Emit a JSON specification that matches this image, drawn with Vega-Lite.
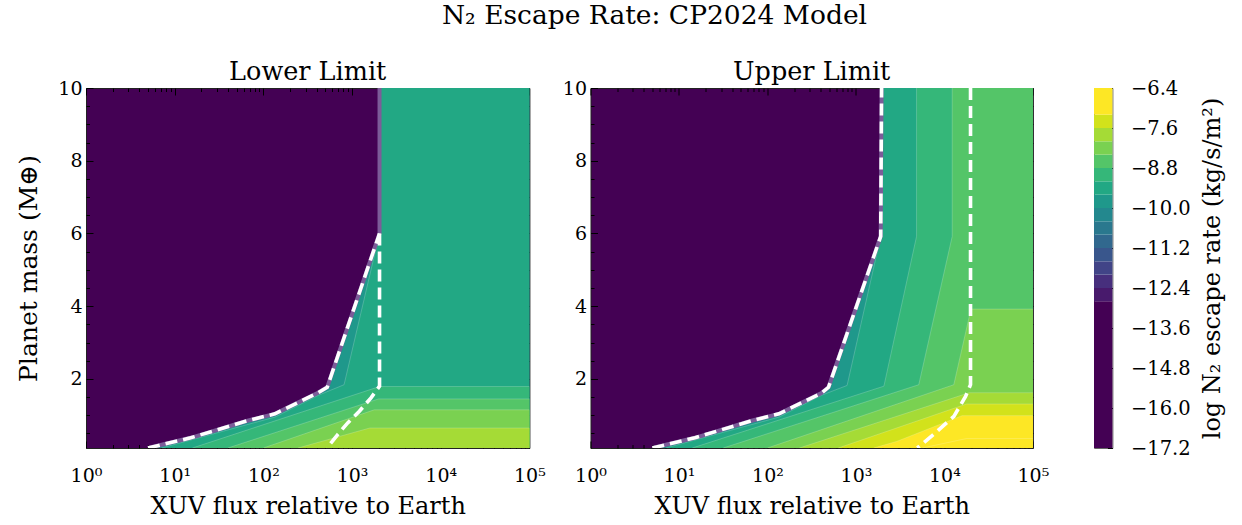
{
  "$schema": "https://vega.github.io/schema/vega-lite/v6.json",
  "background": "white",
  "padding": {"left": 16, "top": 3, "right": 4, "bottom": 4},
  "config": {
    "font": "DejaVu Serif",
    "axis": {"grid": false, "domain": false, "labelColor": "#000", "titleColor": "#000", "tickColor": "#000", "titleFontWeight": "normal", "labelFlush": false, "labelOverlap": false, "labelBound": false, "labelFont": "DejaVu Serif", "titleFont": "DejaVu Serif"},
    "title": {"font": "DejaVu Serif", "fontWeight": "normal", "color": "#000"}
  },
  "title": {"text": "N₂ Escape Rate: CP2024 Model", "fontSize": 26.5, "anchor": "middle", "dx": 34, "offset": 29.5},
  "datasets": {
    "cl": [
      {"b": 8, "i": 0, "x": 5.01, "y": 0.1}, {"b": 8, "i": 1, "x": 15.14, "y": 0.38}, {"b": 8, "i": 2, "x": 66.07, "y": 0.85}, {"b": 8, "i": 3, "x": 134.9, "y": 1.04}, {"b": 8, "i": 4, "x": 407.4, "y": 1.61}, {"b": 8, "i": 5, "x": 524.8, "y": 1.77}, {"b": 8, "i": 6, "x": 2041.7, "y": 6.0}, {"b": 8, "i": 7, "x": 2041.7, "y": 10}, {"b": 8, "i": 8, "x": 100000, "y": 10},
      {"b": 9, "i": 0, "x": 7.08, "y": 0.1}, {"b": 9, "i": 1, "x": 134.9, "y": 0.95}, {"b": 9, "i": 2, "x": 416.9, "y": 1.55}, {"b": 9, "i": 3, "x": 812.8, "y": 1.84}, {"b": 9, "i": 4, "x": 2041.7, "y": 6.0}, {"b": 9, "i": 5, "x": 2041.7, "y": 10}, {"b": 9, "i": 6, "x": 100000, "y": 10},
      {"b": 10, "i": 0, "x": 15.85, "y": 0.1}, {"b": 10, "i": 1, "x": 2041.7, "y": 1.79}, {"b": 10, "i": 2, "x": 100000, "y": 1.79},
      {"b": 11, "i": 0, "x": 39.81, "y": 0.1}, {"b": 11, "i": 1, "x": 1995.3, "y": 1.45}, {"b": 11, "i": 2, "x": 100000, "y": 1.45},
      {"b": 12, "i": 0, "x": 100, "y": 0.1}, {"b": 12, "i": 1, "x": 1778.3, "y": 1.15}, {"b": 12, "i": 2, "x": 100000, "y": 1.15},
      {"b": 13, "i": 0, "x": 245.5, "y": 0.1}, {"b": 13, "i": 1, "x": 1584.9, "y": 0.65}, {"b": 13, "i": 2, "x": 100000, "y": 0.65}
    ],
    "cr": [
      {"b": 8, "i": 0, "x": 5.01, "y": 0.1}, {"b": 8, "i": 1, "x": 15.14, "y": 0.38}, {"b": 8, "i": 2, "x": 66.07, "y": 0.85}, {"b": 8, "i": 3, "x": 134.9, "y": 1.04}, {"b": 8, "i": 4, "x": 407.4, "y": 1.61}, {"b": 8, "i": 5, "x": 489.8, "y": 1.77}, {"b": 8, "i": 6, "x": 1905.5, "y": 5.92}, {"b": 8, "i": 7, "x": 1949.8, "y": 10}, {"b": 8, "i": 8, "x": 100000, "y": 10},
      {"b": 9, "i": 0, "x": 7.08, "y": 0.1}, {"b": 9, "i": 1, "x": 134.9, "y": 0.95}, {"b": 9, "i": 2, "x": 407.4, "y": 1.55}, {"b": 9, "i": 3, "x": 794.3, "y": 1.82}, {"b": 9, "i": 4, "x": 1905.5, "y": 5.92}, {"b": 9, "i": 5, "x": 1949.8, "y": 10}, {"b": 9, "i": 6, "x": 100000, "y": 10},
      {"b": 10, "i": 0, "x": 14.13, "y": 0.1}, {"b": 10, "i": 1, "x": 2070.1, "y": 1.8}, {"b": 10, "i": 2, "x": 4841.7, "y": 5.92}, {"b": 10, "i": 3, "x": 4841.7, "y": 10}, {"b": 10, "i": 4, "x": 100000, "y": 10},
      {"b": 11, "i": 0, "x": 31.62, "y": 0.1}, {"b": 11, "i": 1, "x": 5128.6, "y": 1.84}, {"b": 11, "i": 2, "x": 12246, "y": 5.92}, {"b": 11, "i": 3, "x": 12246, "y": 10}, {"b": 11, "i": 4, "x": 100000, "y": 10},
      {"b": 12, "i": 0, "x": 100, "y": 0.1}, {"b": 12, "i": 1, "x": 12764, "y": 1.84}, {"b": 12, "i": 2, "x": 19953, "y": 3.92}, {"b": 12, "i": 3, "x": 100000, "y": 3.92},
      {"b": 13, "i": 0, "x": 229.1, "y": 0.1}, {"b": 13, "i": 1, "x": 19055, "y": 1.62}, {"b": 13, "i": 2, "x": 100000, "y": 1.62},
      {"b": 14, "i": 0, "x": 631.0, "y": 0.1}, {"b": 14, "i": 1, "x": 17783, "y": 1.31}, {"b": 14, "i": 2, "x": 100000, "y": 1.31},
      {"b": 15, "i": 0, "x": 1584.9, "y": 0.1}, {"b": 15, "i": 1, "x": 2884, "y": 0.28}, {"b": 15, "i": 2, "x": 15849, "y": 0.99}, {"b": 15, "i": 3, "x": 100000, "y": 0.99},
      {"b": 16, "i": 0, "x": 5623, "y": 0.1}, {"b": 16, "i": 1, "x": 17783, "y": 0.36}, {"b": 16, "i": 2, "x": 100000, "y": 0.36}
    ],
    "dl": [
      {"s": "A", "i": 0, "x": 5.01, "y": 0.1}, {"s": "A", "i": 1, "x": 15.14, "y": 0.38}, {"s": "A", "i": 2, "x": 66.07, "y": 0.85}, {"s": "A", "i": 3, "x": 134.9, "y": 1.04}, {"s": "A", "i": 4, "x": 407.4, "y": 1.61}, {"s": "A", "i": 5, "x": 524.8, "y": 1.77}, {"s": "A", "i": 6, "x": 2041.7, "y": 6.0},
      {"s": "B", "i": 0, "x": 2041.7, "y": 6.0}, {"s": "B", "i": 1, "x": 2041.7, "y": 1.8}, {"s": "B", "i": 2, "x": 1636.8, "y": 1.48}, {"s": "B", "i": 3, "x": 1210.6, "y": 1.11}, {"s": "B", "i": 4, "x": 893.3, "y": 0.79}, {"s": "B", "i": 5, "x": 688.7, "y": 0.47}, {"s": "B", "i": 6, "x": 520, "y": 0.1}
    ],
    "dr": [
      {"s": "A", "i": 0, "x": 5.01, "y": 0.1}, {"s": "A", "i": 1, "x": 15.14, "y": 0.38}, {"s": "A", "i": 2, "x": 66.07, "y": 0.85}, {"s": "A", "i": 3, "x": 134.9, "y": 1.04}, {"s": "A", "i": 4, "x": 407.4, "y": 1.61}, {"s": "A", "i": 5, "x": 489.8, "y": 1.77}, {"s": "A", "i": 6, "x": 1905.5, "y": 5.92}, {"s": "A", "i": 7, "x": 1949.8, "y": 10},
      {"s": "B", "i": 0, "x": 19724, "y": 10}, {"s": "B", "i": 1, "x": 19724, "y": 1.84}, {"s": "B", "i": 2, "x": 17338, "y": 1.52}, {"s": "B", "i": 3, "x": 12794, "y": 0.97}, {"s": "B", "i": 4, "x": 7943, "y": 0.52}, {"s": "B", "i": 5, "x": 4932, "y": 0.1}
    ],
    "cb": [
      {"b": 0, "lo": -17.2, "hi": -12.8}, {"b": 1, "lo": -12.8, "hi": -12.4}, {"b": 2, "lo": -12.4, "hi": -12.0}, {"b": 3, "lo": -12.0, "hi": -11.6},
      {"b": 4, "lo": -11.6, "hi": -11.2}, {"b": 5, "lo": -11.2, "hi": -10.8}, {"b": 6, "lo": -10.8, "hi": -10.4}, {"b": 7, "lo": -10.4, "hi": -10.0},
      {"b": 8, "lo": -10.0, "hi": -9.6}, {"b": 9, "lo": -9.6, "hi": -9.2}, {"b": 10, "lo": -9.2, "hi": -8.8}, {"b": 11, "lo": -8.8, "hi": -8.4},
      {"b": 12, "lo": -8.4, "hi": -8.0}, {"b": 13, "lo": -8.0, "hi": -7.6}, {"b": 14, "lo": -7.6, "hi": -7.2}, {"b": 15, "lo": -7.2, "hi": -6.4}
    ]
  },
  "hconcat": [
    {
      "width": 443.4, "height": 360,
      "view": {"fill": "#440154", "stroke": "#222", "strokeWidth": 1},
      "title": {"text": "Lower Limit", "fontSize": 25.5, "offset": -6},
      "resolve": {"axis": {"x": "independent", "y": "independent"}},
      "layer": [
        {
          "data": {"name": "cl"},
          "mark": {"type": "area", "fillOpacity": 1, "opacity": 1},
          "encoding": {
            "x": {"field": "x", "type": "quantitative", "scale": {"type": "log", "domain": [1, 100000], "nice": false},
              "axis": {"orient": "bottom", "values": [1, 10, 100, 1000, 10000, 100000], "tickSize": -7, "tickWidth": 1, "labelExpr": "'10' + ['⁰','¹','²','³','⁴','⁵'][round(log(datum.value)/LN10)]", "labelFontSize": 19, "labelPadding": 25, "title": "XUV flux relative to Earth", "titleFontSize": 24, "titlePadding": 9}},
            "y": {"field": "y", "type": "quantitative", "stack": null, "scale": {"domain": [0.1, 10], "nice": false, "zero": false},
              "axis": {"orient": "left", "values": [2, 4, 6, 8, 10], "tickSize": -7, "tickWidth": 1, "format": "d", "labelFontSize": 19, "labelPadding": 11, "title": "Planet mass (M⊕)", "titleFontSize": 25, "titlePadding": 16}},
            "y2": {"datum": 0.1},
            "color": {"field": "b", "type": "ordinal", "scale": {"domain": [8, 9, 10, 11, 12, 13, 14, 15], "range": ["#1f988b", "#22a884", "#35b779", "#54c568", "#7ad151", "#a5db36", "#d2e21b", "#fde725"]}, "legend": null}
          }
        },
        {
          "data": {"name": "cl"},
          "transform": [{"filter": "!(datum.x == 100000 && datum.y == 10)"}],
          "mark": {"type": "line", "color": "#ffffff", "strokeWidth": 0.8, "strokeOpacity": 0.25, "clip": true},
          "encoding": {
            "x": {"field": "x", "type": "quantitative", "scale": {"type": "log", "domain": [1, 100000], "nice": false},
              "axis": {"orient": "bottom", "values": [2,3,4,5,6,7,8,9,20,30,40,50,60,70,80,90,200,300,400,500,600,700,800,900,2000,3000,4000,5000,6000,7000,8000,9000,20000,30000,40000,50000,60000,70000,80000,90000], "tickSize": -3.5, "labels": false, "title": null}},
            "y": {"field": "y", "type": "quantitative", "scale": {"domain": [0.1, 10], "nice": false, "zero": false},
              "axis": {"orient": "left", "values": [0.5,1,1.5,2.5,3,3.5,4.5,5,5.5,6.5,7,7.5,8.5,9,9.5], "tickSize": -3.5, "labels": false, "title": null}},
            "detail": {"field": "b"},
            "order": {"field": "i", "type": "quantitative"}
          }
        },
        {
          "data": {"name": "cl"},
          "transform": [{"filter": "datum.b == 8 && datum.x < 100000"}],
          "mark": {"type": "line", "color": "#7c5c99", "strokeWidth": 4, "clip": true},
          "encoding": {
            "x": {"field": "x", "type": "quantitative", "scale": {"type": "log", "domain": [1, 100000], "nice": false},
              "axis": {"orient": "top", "values": [1, 10, 100, 1000, 10000, 100000], "tickSize": -7, "labels": false, "title": null}},
            "y": {"field": "y", "type": "quantitative", "scale": {"domain": [0.1, 10], "nice": false, "zero": false},
              "axis": {"orient": "right", "values": [2, 4, 6, 8, 10], "tickSize": -7, "labels": false, "title": null}},
            "order": {"field": "i", "type": "quantitative"}
          }
        },
        {
          "data": {"name": "dl"},
          "mark": {"type": "line", "color": "#ffffff", "strokeWidth": 3.6, "strokeDash": [12, 6], "clip": true},
          "encoding": {
            "x": {"field": "x", "type": "quantitative", "scale": {"type": "log", "domain": [1, 100000], "nice": false},
              "axis": {"orient": "top", "values": [2,3,4,5,6,7,8,9,20,30,40,50,60,70,80,90,200,300,400,500,600,700,800,900,2000,3000,4000,5000,6000,7000,8000,9000,20000,30000,40000,50000,60000,70000,80000,90000], "tickSize": -3.5, "labels": false, "title": null}},
            "y": {"field": "y", "type": "quantitative", "scale": {"domain": [0.1, 10], "nice": false, "zero": false},
              "axis": {"orient": "right", "values": [0.5,1,1.5,2.5,3,3.5,4.5,5,5.5,6.5,7,7.5,8.5,9,9.5], "tickSize": -3.5, "labels": false, "title": null}},
            "detail": {"field": "s"},
            "order": {"field": "i", "type": "quantitative"}
          }
        }
      ]
    },
    {
      "width": 442.4, "height": 360,
      "view": {"fill": "#440154", "stroke": "#222", "strokeWidth": 1},
      "title": {"text": "Upper Limit", "fontSize": 25.5, "offset": -6},
      "resolve": {"axis": {"x": "independent", "y": "independent"}},
      "layer": [
        {
          "data": {"name": "cr"},
          "transform": [{"filter": "datum.b < 16"}],
          "mark": {"type": "area", "fillOpacity": 1, "opacity": 1},
          "encoding": {
            "x": {"field": "x", "type": "quantitative", "scale": {"type": "log", "domain": [1, 100000], "nice": false},
              "axis": {"orient": "bottom", "values": [1, 10, 100, 1000, 10000, 100000], "tickSize": -7, "tickWidth": 1, "labelExpr": "'10' + ['⁰','¹','²','³','⁴','⁵'][round(log(datum.value)/LN10)]", "labelFontSize": 19, "labelPadding": 25, "title": "XUV flux relative to Earth", "titleFontSize": 24, "titlePadding": 9}},
            "y": {"field": "y", "type": "quantitative", "stack": null, "scale": {"domain": [0.1, 10], "nice": false, "zero": false},
              "axis": {"orient": "left", "values": [2, 4, 6, 8, 10], "tickSize": -7, "tickWidth": 1, "format": "d", "labelFontSize": 19, "labelPadding": 11, "title": null}},
            "y2": {"datum": 0.1},
            "color": {"field": "b", "type": "ordinal", "scale": {"domain": [8, 9, 10, 11, 12, 13, 14, 15], "range": ["#1f988b", "#22a884", "#35b779", "#54c568", "#7ad151", "#a5db36", "#d2e21b", "#fde725"]}, "legend": null}
          }
        },
        {
          "data": {"name": "cr"},
          "transform": [{"filter": "!(datum.x == 100000 && datum.y == 10)"}],
          "mark": {"type": "line", "color": "#ffffff", "strokeWidth": 0.8, "strokeOpacity": 0.25, "clip": true},
          "encoding": {
            "x": {"field": "x", "type": "quantitative", "scale": {"type": "log", "domain": [1, 100000], "nice": false},
              "axis": {"orient": "bottom", "values": [2,3,4,5,6,7,8,9,20,30,40,50,60,70,80,90,200,300,400,500,600,700,800,900,2000,3000,4000,5000,6000,7000,8000,9000,20000,30000,40000,50000,60000,70000,80000,90000], "tickSize": -3.5, "labels": false, "title": null}},
            "y": {"field": "y", "type": "quantitative", "scale": {"domain": [0.1, 10], "nice": false, "zero": false},
              "axis": {"orient": "left", "values": [0.5,1,1.5,2.5,3,3.5,4.5,5,5.5,6.5,7,7.5,8.5,9,9.5], "tickSize": -3.5, "labels": false, "title": null}},
            "detail": {"field": "b"},
            "order": {"field": "i", "type": "quantitative"}
          }
        },
        {
          "data": {"name": "cr"},
          "transform": [{"filter": "datum.b == 8 && datum.x < 100000"}],
          "mark": {"type": "line", "color": "#7c5c99", "strokeWidth": 4, "clip": true},
          "encoding": {
            "x": {"field": "x", "type": "quantitative", "scale": {"type": "log", "domain": [1, 100000], "nice": false},
              "axis": {"orient": "top", "values": [1, 10, 100, 1000, 10000, 100000], "tickSize": -7, "labels": false, "title": null}},
            "y": {"field": "y", "type": "quantitative", "scale": {"domain": [0.1, 10], "nice": false, "zero": false},
              "axis": {"orient": "right", "values": [2, 4, 6, 8, 10], "tickSize": -7, "labels": false, "title": null}},
            "order": {"field": "i", "type": "quantitative"}
          }
        },
        {
          "data": {"name": "dr"},
          "mark": {"type": "line", "color": "#ffffff", "strokeWidth": 3.6, "strokeDash": [12, 6], "clip": true},
          "encoding": {
            "x": {"field": "x", "type": "quantitative", "scale": {"type": "log", "domain": [1, 100000], "nice": false},
              "axis": {"orient": "top", "values": [2,3,4,5,6,7,8,9,20,30,40,50,60,70,80,90,200,300,400,500,600,700,800,900,2000,3000,4000,5000,6000,7000,8000,9000,20000,30000,40000,50000,60000,70000,80000,90000], "tickSize": -3.5, "labels": false, "title": null}},
            "y": {"field": "y", "type": "quantitative", "scale": {"domain": [0.1, 10], "nice": false, "zero": false},
              "axis": {"orient": "right", "values": [0.5,1,1.5,2.5,3,3.5,4.5,5,5.5,6.5,7,7.5,8.5,9,9.5], "tickSize": -3.5, "labels": false, "title": null}},
            "detail": {"field": "s"},
            "order": {"field": "i", "type": "quantitative"}
          }
        }
      ]
    },
    {
      "width": 18.4, "height": 360,
      "view": {"stroke": "#666", "strokeWidth": 1},
      "data": {"name": "cb"},
      "mark": {"type": "rect"},
      "encoding": {
        "x": {"datum": 0, "type": "quantitative", "scale": {"domain": [0, 1]}, "axis": null},
        "x2": {"datum": 1},
        "y": {"field": "lo", "type": "quantitative", "scale": {"domain": [-17.2, -6.4], "nice": false, "zero": false},
          "axis": {"orient": "right", "values": [-17.2, -16.0, -14.8, -13.6, -12.4, -11.2, -10.0, -8.8, -7.6, -6.4], "tickSize": -5, "labelExpr": "replace(format(datum.value, '.1f'), '-', '−')", "labelFontSize": 19.5, "labelPadding": 23, "title": "log N₂ escape rate (kg/s/m²)", "titleFontSize": 24, "titleAngle": 270, "titleBaseline": "top", "titlePadding": 10}},
        "y2": {"field": "hi"},
        "color": {"field": "b", "type": "ordinal", "scale": {"domain": [0,1,2,3,4,5,6,7,8,9,10,11,12,13,14,15], "range": ["#440154", "#481a6c", "#472f7d", "#414487", "#39568c", "#31688e", "#2a788e", "#23888e", "#1f988b", "#22a884", "#35b779", "#54c568", "#7ad151", "#a5db36", "#d2e21b", "#fde725"]}, "legend": null}
      }
    }
  ],
  "spacing": 60.5,
  "bounds": "flush",
  "resolve": {"scale": {"color": "independent"}}
}
